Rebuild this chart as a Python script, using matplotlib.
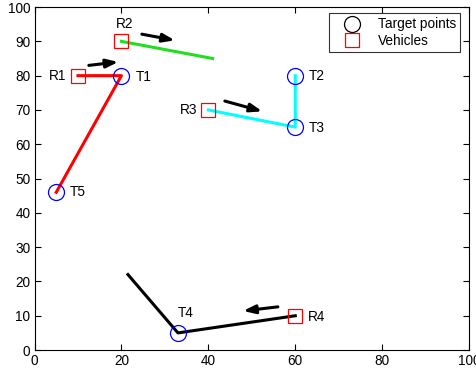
import matplotlib
matplotlib.use("Agg")
import matplotlib.pyplot as plt

plt.rcParams['font.family'] = ['Liberation Sans', 'DejaVu Sans']

# targets and vehicles
target_names = ["T1", "T2", "T3", "T4", "T5"]
target_x = [20, 60, 60, 33, 5]
target_y = [80, 80, 65, 5, 46]

vehicle_names = ["R1", "R2", "R3", "R4"]
vehicle_x = [10, 20, 40, 60]
vehicle_y = [80, 90, 70, 10]

# paths per vehicle
path_r1_x = [10, 20, 5]
path_r1_y = [80, 80, 46]
path_r2_x = [20, 41]
path_r2_y = [90, 85]
path_r3_x = [40, 60, 60]
path_r3_y = [70, 65, 80]
path_r4_x = [60, 33, 21.5]
path_r4_y = [10, 5, 22]

# direction arrows (start, end)
arrow_start = [(12.5, 83.0), (24.7, 92.1), (43.8, 72.6), (56.0, 12.6)]
arrow_end = [(19.3, 84.0), (32.3, 90.3), (52.4, 69.6), (48.0, 11.4)]

# label positions
target_label_x = [25.2, 65, 65, 34.8, 10]
target_label_y = [79.5, 80, 64.7, 10.8, 46]
vehicle_label_x = [5.4, 20.8, 35.5, 65]
vehicle_label_y = [80, 95, 70, 9.6]

FS = 9.8

fig = plt.figure(figsize=(4.76, 3.72), dpi=100)
ax = fig.add_axes([0.0725, 0.059, 0.913, 0.922])

ax.plot(path_r1_x, path_r1_y, color="red", lw=2.2, zorder=2)
ax.plot(path_r2_x, path_r2_y, color="#22dd22", lw=2.2, zorder=2)
ax.plot(path_r3_x, path_r3_y, color="cyan", lw=2.2, zorder=2)
ax.plot(path_r4_x, path_r4_y, color="black", lw=2.2, zorder=2)

ax.plot(target_x, target_y, "o", ms=11.5, mfc="none", mec="blue", mew=0.9, zorder=3)
ax.plot(vehicle_x, vehicle_y, "s", ms=9.5, mfc="none", mec="red", mew=0.9, zorder=3)

for (x0, y0), (x1, y1) in zip(arrow_start, arrow_end):
    ax.annotate("", xy=(x1, y1), xytext=(x0, y0),
                arrowprops=dict(arrowstyle="-|>,head_length=0.7,head_width=0.25",
                                color="black", lw=2.2, shrinkA=0, shrinkB=0))

for name, x, y in zip(target_names, target_label_x, target_label_y):
    ax.text(x, y, name, ha="center", va="center", fontsize=FS)
for name, x, y in zip(vehicle_names, vehicle_label_x, vehicle_label_y):
    ax.text(x, y, name, ha="center", va="center", fontsize=FS)

# legend handles
ax.plot([], [], "o", ms=11.5, mfc="none", mec="black", mew=0.9, label="Target points")
ax.plot([], [], "s", ms=9.5, mfc="none", mec="red", mew=0.9, label="Vehicles")
handles, labels = ax.get_legend_handles_labels()
leg = ax.legend(handles, labels, loc="upper right", fontsize=FS, frameon=True,
                fancybox=False, edgecolor="black", borderpad=0.3, handlelength=2.8,
                handletextpad=0.5, labelspacing=0.2, borderaxespad=0,
                bbox_to_anchor=(0.98, 0.982))
leg.get_frame().set_linewidth(0.8)

ax.set_xlim(0, 100)
ax.set_ylim(0, 100)
ax.set_xticks([0, 20, 40, 60, 80, 100])
ax.set_yticks(range(0, 101, 10))
ax.tick_params(direction="in", top=True, right=True, labelsize=FS, length=4, pad=3)
for s in ax.spines.values():
    s.set_linewidth(0.8)

fig.savefig("out.png", dpi=100)
